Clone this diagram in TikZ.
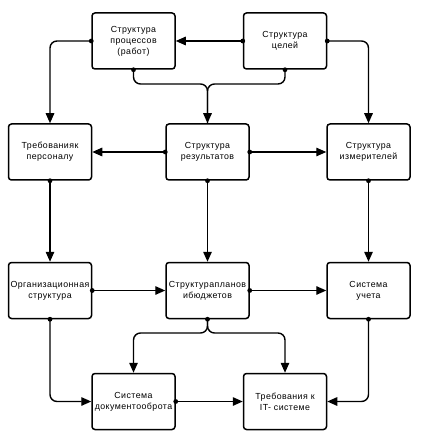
\documentclass[tikz,border=0pt]{standalone}
\usepackage{fontspec}
\newfontfamily\boxfont[LetterSpace=5]{Liberation Sans}
\usetikzlibrary{arrows.meta}

\begin{document}
\begin{tikzpicture}[x=1pt,y=-1pt,
  block/.style={draw, line width=1.5pt, rounded corners=3pt, minimum width=83pt,
    minimum height=56pt, align=center, inner sep=1pt,
    font=\boxfont\fontsize{8.8}{11}\selectfont},
  link/.style={line width=1.4pt, rounded corners=7pt, -{Triangle[length=10pt,width=8.5pt]}},
  plain/.style={line width=1.4pt, rounded corners=7pt}]

\useasboundingbox (0,0) rectangle (420,435);

\node[block] (proc) at (133.5,41) {Структура\\процессов\\(работ)};
\node[block] (goals) at (285,41) {Структура\\целей};

\node[block] (staff) at (50,152) {Требованияк\\персоналу};
\node[block] (res) at (207.5,152) {Структура\\результатов};
\node[block] (meter) at (368.5,152) {Структура\\измерителей};

\node[block] (org) at (50,290.5) {Организационная\\структура};
\node[block] (plans) at (207.5,290.5) {Структурапланов\\ибюджетов};
\node[block] (acct) at (368.5,290.5) {Система\\учета};

\node[block] (docs) at (133.5,401.5) {Система\\документооброта};
\node[block] (itreq) at (285,401.5) {Требования к\\IT- системе};

\coordinate (merge) at (207.5,84);
\coordinate (split) at (207.5,333);

\draw[link] (goals.west) -- (proc.east);
\draw[link] (proc.west) -| (staff.north);
\draw[link] (goals.east) -| (meter.north);
\draw[plain] (proc.south) |- (merge) -- (res.north);
\draw[link] (goals.south) |- (merge) -- (res.north);

\draw[link] (res.west) -- (staff.east);
\draw[link] (res.east) -- (meter.west);
\draw[link] (staff.south) -- (org.north);
\draw[link] (res.south) -- (plans.north);
\draw[link] (meter.south) -- (acct.north);

\draw[link] (org.east) -- (plans.west);
\draw[link] (plans.east) -- (acct.west);
\draw[link] (plans.south) -- (split) -| (docs.north);
\draw[link] (plans.south) -- (split) -| (itreq.north);

\draw[link] (org.south) |- (docs.west);
\draw[link] (docs.east) -- (itreq.west);
\draw[link] (acct.south) |- (itreq.east);

\foreach \p in {proc.west,proc.south,goals.west,goals.east,goals.south,
  staff.south,res.west,res.east,res.south,meter.south,
  org.east,org.south,plans.east,plans.south,acct.south,docs.east}
  \fill (\p) circle (2.4pt);
\end{tikzpicture}
\end{document}
